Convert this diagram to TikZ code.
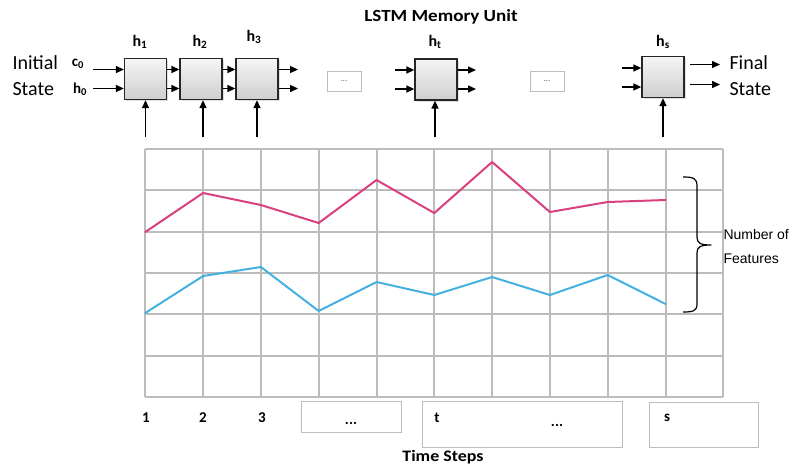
\documentclass[tikz,border=0pt]{standalone}
\usepackage{fontspec}
\setmainfont{Carlito}
\newfontfamily\arialfont{Liberation Sans}
\usetikzlibrary{arrows.meta,shadows}

\definecolor{gridgray}{HTML}{BCBCBC}
\definecolor{boxgray}{HTML}{BDBDBD}
\definecolor{seqpink}{HTML}{D8407F}
\definecolor{seqblue}{HTML}{45B1E0}

\tikzset{
  cell/.style={draw=black!85, line width=1.3pt, top color=gray!8, bottom color=gray!38,
               minimum width=42pt, minimum height=41pt, inner sep=0pt,
               drop shadow={shadow xshift=1.5pt, shadow yshift=-1.5pt, opacity=0.25}},
  flow/.style={line width=1.4pt, -{Triangle[length=8pt,width=7pt]}},
  hlabel/.style={font=\fontsize{16}{18}\selectfont\bfseries},
  sidetext/.style={font=\fontsize{20}{26}\selectfont, align=left, anchor=west},
  gapbox/.style={draw=boxgray, line width=0.8pt, inner sep=0pt, text=gray!60!black},
  stepbox/.style={draw=boxgray, line width=1pt, inner sep=0pt},
  steplabel/.style={font=\fontsize{15}{18}\selectfont\bfseries},
  gridline/.style={draw=gridgray, line width=2pt},
  series/.style={line width=2pt, line join=round, line cap=round}
}

\begin{document}
\begin{tikzpicture}[x=1pt,y=-1pt]
\useasboundingbox (0,0) rectangle (800,467);
\fill[white] (0,0) rectangle (800,467);

% ---- title ----
\node[font=\fontsize{17}{20}\selectfont\bfseries] (title) at (441,17) {\scalebox{1.12}[1]{LSTM Memory Unit}};

% ---- LSTM cells ----
\node[cell] (c1) at (145.5,79) {};
\node[cell] (c2) at (201,79) {};
\node[cell] (c3) at (257,79) {};
\node[cell] (ct) at (436,79.5) {};
\node[cell] (cs) at (663,77) {};

\node[hlabel] (h1) at (140,42) {h$_{\mathbf 1}$};
\node[hlabel] (h2) at (200,42) {h$_{\mathbf 2}$};
\node[hlabel] (h3) at (254,37) {h$_{\mathbf 3}$};
\node[hlabel] (ht) at (435,42) {h$_{\mathbf t}$};
\node[hlabel] (hs) at (663,42) {h$_{\mathbf s}$};

% ---- initial and final state ----
\node[sidetext] (init) at (9,76) {Initial\\State};
\node[font=\fontsize{15}{18}\selectfont\bfseries] (c0) at (78,64) {c$_{\mathbf 0}$};
\node[font=\fontsize{15}{18}\selectfont\bfseries] (h0) at (80,89) {h$_{\mathbf 0}$};
\node[sidetext] (final) at (726,76) {Final\\State};

% input arrows of the first cell
\coordinate (c0in) at (93,69.5);
\coordinate (h0in) at (93,88.5);
\draw[flow] (c0in) -- (c0in -| c1.west);
\draw[flow] (h0in) -- (h0in -| c1.west);

% chained cells
\foreach \a/\b in {c1/c2, c2/c3} {
  \draw[flow] ([yshift=9.5pt]\a.east) -- ([yshift=9.5pt]\b.west);
  \draw[flow] ([yshift=-9.5pt]\a.east) -- ([yshift=-9.5pt]\b.west);
}
\coordinate (c3outA) at (298,69.5);
\coordinate (c3outB) at (298,88.5);
\draw[flow] ([yshift=9.5pt]c3.east) -- (c3outA);
\draw[flow] ([yshift=-9.5pt]c3.east) -- (c3outB);

% cell t
\coordinate (ctinA) at (395,70);
\coordinate (ctinB) at (395,89);
\coordinate (ctoutA) at (476,70);
\coordinate (ctoutB) at (476,89);
\draw[flow] (ctinA) -- (ctinA -| ct.west);
\draw[flow] (ctinB) -- (ctinB -| ct.west);
\draw[flow] (ctoutA -| ct.east) -- (ctoutA);
\draw[flow] (ctoutB -| ct.east) -- (ctoutB);

% cell s
\coordinate (csinA) at (622,68);
\coordinate (csinB) at (622,87);
\draw[flow] (csinA) -- (csinA -| cs.west);
\draw[flow] (csinB) -- (csinB -| cs.west);
\coordinate (csoutA0) at (690,64.5);
\coordinate (csoutA) at (720,64.5);
\coordinate (csoutB0) at (690,84.5);
\coordinate (csoutB) at (720,84.5);
\draw[flow] (csoutA0) -- (csoutA);
\draw[flow] (csoutB0) -- (csoutB);

% inputs from below
\foreach \c/\x in {c1/145.5, c2/203, c3/257, ct/435, cs/663} {
  \coordinate (\c in) at (\x,137);
  \draw[flow] (\c in) -- (\c in |- \c.south);
}

% elided cells
\node[gapbox, minimum width=34pt, minimum height=20pt, font=\fontsize{8}{8}\selectfont] (gapA) at (344,81) {...};
\node[gapbox, minimum width=34pt, minimum height=20pt, font=\fontsize{8}{8}\selectfont] (gapB) at (547,81) {...};

% ---- feature grid ----
\foreach \i in {0,...,10} {
  \draw[gridline] ({145.3+57.8*\i},149) -- ({145.3+57.8*\i},397);
}
\foreach \j in {0,...,6} {
  \draw[gridline] (145.3,{149+41.33*\j}) -- (723.3,{149+41.33*\j});
}

% two feature sequences
\draw[series, seqpink]
  (145.3,232) -- (203.1,193) -- (260.9,205) -- (318.7,223) -- (376.5,180)
  -- (434.3,213) -- (492.1,162) -- (549.9,212) -- (607.7,202) -- (665.5,200);
\draw[series, seqblue]
  (145.3,313) -- (203.1,276) -- (260.9,267) -- (318.7,311) -- (376.5,282)
  -- (434.3,295) -- (492.1,277) -- (549.9,295) -- (607.7,275) -- (665.5,304);

% brace and its label
\draw[line width=1.2pt, line join=round]
  (683,177) .. controls (693,177) and (697,178) .. (697,186) -- (697,237)
  .. controls (697,243) and (700,245) .. (711,245)
  .. controls (700,245) and (697,247) .. (697,253) -- (697,304)
  .. controls (697,311) and (693,312) .. (683,312);
\node[font=\arialfont\fontsize{14}{24}\selectfont, align=left, anchor=west] (nfeat) at (720,246) {Number of\\Features};

% ---- time step labels ----
\node[steplabel] (s1) at (146,418) {1};
\node[steplabel] (s2) at (203,418) {2};
\node[steplabel] (s3) at (262,418) {3};
\node[stepbox, minimum width=100pt, minimum height=31pt] (sgapA) at (351,416.5) {};
\node[steplabel] (sdotsA) at (351,423) {...};
\node[stepbox, minimum width=200pt, minimum height=46pt] (stbox) at (522,424) {};
\node[steplabel] (st) at (437,418) {t};
\node[steplabel] (sgapB) at (557,425) {...};
\node[stepbox, minimum width=109pt, minimum height=45pt] (ssbox) at (703.5,424.5) {};
\node[steplabel] (ss) at (667,418) {s};
\node[font=\fontsize{16}{18}\selectfont\bfseries] (tsteps) at (443,457) {\scalebox{1.12}[1]{Time Steps}};

\end{tikzpicture}
\end{document}
